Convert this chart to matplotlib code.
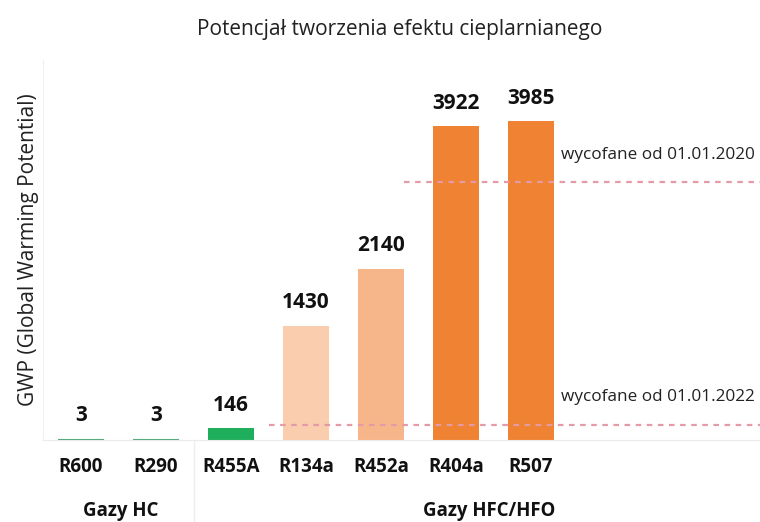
import matplotlib
matplotlib.use("Agg")
import matplotlib.pyplot as plt
from matplotlib import font_manager as fm

title = "Potencjał tworzenia efektu cieplarnianego"
ylabel = "GWP (Global Warming Potential)"
categories = ["R600", "R290", "R455A", "R134a", "R452a", "R404a", "R507"]
values = [3, 3, 146, 1430, 2140, 3922, 3985]
colors = ["#4fa878", "#4fa878", "#1fae5b", "#f9cdae", "#f6b68a", "#f08333", "#f08333"]
groups = ["Gazy HC", "Gazy HFC/HFO"]
group_centers = [0.53, 5.44]
limit_values = [3220, 190]
limit_starts = [4.3, 2.5]
limit_labels = ["wycofane od 01.01.2020", "wycofane od 01.01.2022"]


def find_font(fname_end):
    for f in fm.fontManager.ttflist:
        if f.fname.endswith(fname_end):
            return f.fname
    return None


reg_file = find_font("OpenSans-Regular.ttf")
bold_file = find_font("OpenSans-Bold.ttf")


def fp(size, bold=False):
    path = bold_file if bold else reg_file
    if path:
        return fm.FontProperties(fname=path, size=size)
    return fm.FontProperties(family='DejaVu Sans', size=size, weight='bold' if bold else 'normal')


W, H = 760, 522
fig = plt.figure(figsize=(W / 100, H / 100), dpi=100)
left_px, right_px, top_px, base_px = 43, 760, 60, 440
ax = fig.add_axes([left_px / W, (H - base_px) / H, (right_px - left_px) / W, (base_px - top_px) / H])

x = list(range(len(categories)))
ax.bar(x, values, width=0.62, color=colors, edgecolor=[c if v < 10 else 'none' for c, v in zip(colors, values)],
       linewidth=1.5, zorder=2)

xmin, xmax = (left_px - 81) / 75, (right_px - 81) / 75
ax.set_xlim(xmin, xmax)
ax.set_ylim(0, (base_px - top_px) / 0.08)

for xi, v in zip(x, values):
    ax.annotate(str(v), (xi, v), xytext=(0, 9 if v > 10 else 10), textcoords='offset points',
                ha='center', va='bottom', fontproperties=fp(15, True), color='#111111')

for lv, ls, lab in zip(limit_values, limit_starts, limit_labels):
    ax.plot([ls, xmax], [lv, lv], color='#e59aa8', lw=1.6, ls=(0, (2.5, 2.5)), zorder=3)
    ax.annotate(lab, (xmax, lv), xytext=(-4, 20), textcoords='offset points',
                ha='right', va='center', fontproperties=fp(12.3), color='#222222')

ax.set_xticks(x)
ax.set_xticklabels(categories, fontproperties=fp(13.5, True), color='#111111')
ax.tick_params(axis='x', length=0, pad=12)
ax.set_yticks([])
for s in ['top', 'right']:
    ax.spines[s].set_visible(False)
ax.spines['left'].set_color('#eef0f2')
ax.spines['bottom'].set_color('#e8ecee')

for g, gc in zip(groups, group_centers):
    ax.text(gc, -0.186, g, transform=ax.get_xaxis_transform(), ha='center', va='center',
            fontproperties=fp(13.4, True), color='#111111')

ax.plot([1.5, 1.5], [0, -0.22], transform=ax.get_xaxis_transform(), color='#eceeef', lw=1, clip_on=False)

ax.set_ylabel(ylabel, fontproperties=fp(15), color='#222222', labelpad=3)
fig.text(0.526, 1 - 29 / H, title, ha='center', va='center', fontproperties=fp(15), color='#222222')

fig.savefig("out.png", dpi=100)
